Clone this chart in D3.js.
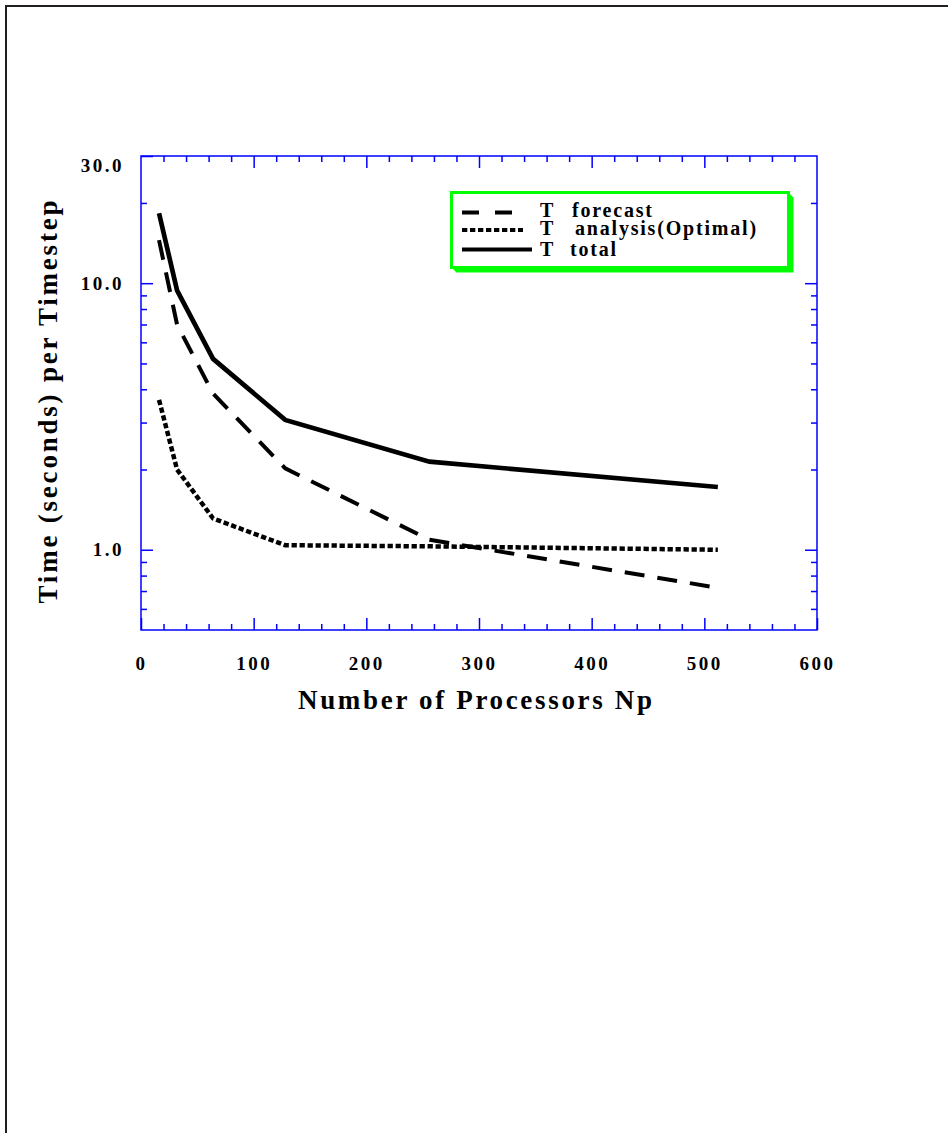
<!DOCTYPE html>
<html>
<head>
<meta charset="utf-8">
<title>Time per Timestep vs Number of Processors</title>
<script src="https://d3js.org/d3.v7.min.js"></script>
<style>
  body { margin: 0; background: #fff; }
  text { font-family: "Liberation Serif", "Times New Roman", serif; font-weight: bold; fill: #000; }
</style>
</head>
<body>
<svg id="chart" width="948" height="1133"></svg>
<script>
  // data
  const processors = [16, 32, 64, 128, 256, 512];
  const tForecast = [14.5, 7.0, 3.85, 2.02, 1.09, 0.72];
  const tAnalysis = [3.65, 2.0, 1.31, 1.04, 1.03, 1.0];
  const tTotal = [18.3, 9.4, 5.2, 3.07, 2.14, 1.72];

  const xMajor = [0, 100, 200, 300, 400, 500, 600];
  const xMinor = d3.range(20, 600, 20).filter(v => v % 100 !== 0);
  const yMajor = [1, 10, 30];
  const yMajorLabels = ["1.0", "10.0", "30.0"];
  const yMinor = [0.6, 0.7, 0.8, 0.9, 2, 3, 4, 5, 6, 7, 8, 9, 20];
  const legendLabels = ["forecast", "analysis(Optimal)", "total"];

  const svg = d3.select("#chart");
  const plotL = 141, plotR = 817, plotT = 156, plotB = 630;
  const blue = "#0000ff", green = "#00ff00";

  const x = d3.scaleLinear().domain([0, 600]).range([plotL, plotR]);
  const y = d3.scaleLog().domain([0.5, 30]).range([plotB, plotT]);

  // page border (top + left only)
  svg.append("path")
    .attr("d", "M6,1133V6H948")
    .attr("fill", "none")
    .attr("stroke", "#231f20")
    .attr("stroke-width", 2);

  // ticks, all pointing inward
  function ticks(axis, tx, ty) {
    const g = svg.append("g").attr("transform", `translate(${tx},${ty})`).call(axis);
    g.select(".domain").remove();
    g.selectAll("line").attr("stroke", blue).attr("stroke-width", 1.5);
    return g;
  }
  const none = () => "";
  ticks(d3.axisBottom(x).tickValues(xMinor).tickSizeInner(-6).tickSizeOuter(0).tickFormat(none), 0, plotB);
  const xg = ticks(d3.axisBottom(x).tickValues(xMajor).tickSizeInner(-12).tickSizeOuter(0).tickPadding(27)
    .tickFormat(d3.format("d")), 0, plotB);
  ticks(d3.axisTop(x).tickValues(xMinor).tickSizeInner(-6).tickSizeOuter(0).tickFormat(none), 0, plotT);
  ticks(d3.axisTop(x).tickValues(xMajor.slice(1, -1)).tickSizeInner(-12).tickSizeOuter(0).tickFormat(none), 0, plotT);

  ticks(d3.axisLeft(y).tickValues(yMinor).tickSizeInner(-6).tickSizeOuter(0).tickFormat(none), plotL, 0);
  const yg = ticks(d3.axisLeft(y).tickValues(yMajor).tickSizeInner(-12).tickSizeOuter(0).tickPadding(17)
    .tickFormat((d, i) => yMajorLabels[i]), plotL, 0);
  ticks(d3.axisRight(y).tickValues(yMinor).tickSizeInner(-6).tickSizeOuter(0).tickFormat(none), plotR, 0);
  ticks(d3.axisRight(y).tickValues(yMajor.slice(0, 2)).tickSizeInner(-12).tickSizeOuter(0).tickFormat(none), plotR, 0);

  xg.selectAll("text").style("font-size", "19px").style("letter-spacing", "2.5px");
  yg.selectAll("text").style("font-size", "19px").style("letter-spacing", "2.5px");
  yg.selectAll(".tick").filter(d => d === 30).select("text").attr("dy", "0.8em");

  // plot frame
  svg.append("rect")
    .attr("x", plotL).attr("y", plotT)
    .attr("width", plotR - plotL).attr("height", plotB - plotT)
    .attr("fill", "none").attr("stroke", blue).attr("stroke-width", 1.5);

  // axis titles
  svg.append("text")
    .attr("x", (plotL + plotR) / 2 - 4).attr("y", 709)
    .attr("text-anchor", "middle")
    .attr("textLength", 354).attr("lengthAdjust", "spacing")
    .style("font-size", "27px")
    .text("Number  of  Processors  Np");

  svg.append("text")
    .attr("transform", "translate(57,402) rotate(-90)")
    .attr("text-anchor", "middle")
    .attr("textLength", 403).attr("lengthAdjust", "spacing")
    .style("font-size", "27px")
    .text("Time  (seconds)  per  Timestep");

  // series
  const line = d3.line().x(d => x(d[0])).y(d => y(d[1]));
  const series = [
    { values: tForecast, dash: "20,13", width: 4 },
    { values: tAnalysis, dash: "5.3,2.7", width: 4.5 },
    { values: tTotal, dash: null, width: 4.7 }
  ];
  series.forEach(s => {
    svg.append("path")
      .datum(processors.map((p, i) => [p, s.values[i]]))
      .attr("d", line)
      .attr("fill", "none")
      .attr("stroke", "#000")
      .attr("stroke-width", s.width)
      .attr("stroke-dasharray", s.dash);
  });

  // legend box with green drop shadow
  const lx = 451.5, ly = 192.5, lw = 337, lh = 75, off = 5;
  svg.append("polygon")
    .attr("points", [[lx + lw, ly], [lx + lw + off, ly + off], [lx + lw + off, ly + lh + off],
      [lx + off, ly + lh + off], [lx, ly + lh], [lx + lw, ly + lh]].map(p => p.join(",")).join(" "))
    .attr("fill", green);
  svg.append("rect")
    .attr("x", lx).attr("y", ly).attr("width", lw).attr("height", lh)
    .attr("fill", "#fff").attr("stroke", green).attr("stroke-width", 3);

  const legendRows = [
    { sy: 212.5, x2: 513, dash: "17,16", ty: 217, lx: 572 },
    { sy: 230, x2: 523, dash: "5.3,2.7", ty: 235, lx: 575 },
    { sy: 249.5, x2: 532, dash: null, ty: 256, lx: 570 }
  ];
  legendRows.forEach((r, i) => {
    svg.append("line")
      .attr("x1", 462).attr("x2", r.x2).attr("y1", r.sy).attr("y2", r.sy)
      .attr("stroke", "#000").attr("stroke-width", 4)
      .attr("stroke-dasharray", r.dash);
    svg.append("text").attr("x", 540).attr("y", r.ty)
      .style("font-size", "20px").text("T");
    svg.append("text").attr("x", r.lx).attr("y", r.ty)
      .style("font-size", "20px").style("letter-spacing", "1.8px")
      .text(legendLabels[i]);
  });
</script>
</body>
</html>
